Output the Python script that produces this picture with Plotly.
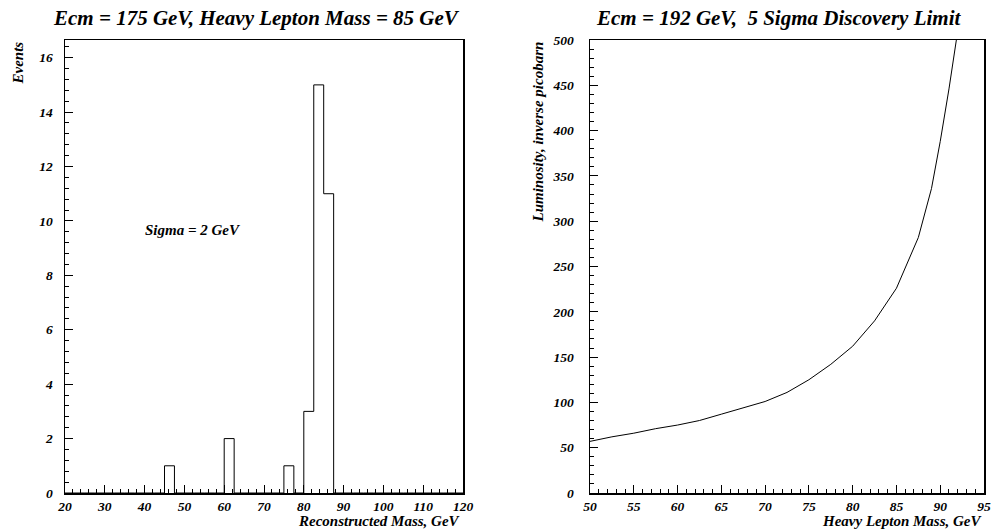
import plotly.graph_objects as go

# ---- data ----
bin_edges = [20 + 2.5 * i for i in range(41)]
counts = [0] * 40
counts[10] = 1   # 45-47.5
counts[16] = 2   # 60-62.5
counts[22] = 1   # 75-77.5
counts[24] = 3   # 80-82.5
counts[25] = 15  # 82.5-85
counts[26] = 11  # 85-87.5

lepton_mass = [50, 52.5, 55, 57.5, 60, 62.5, 65, 67.5, 70, 72.5, 75, 77.5,
               80, 82.5, 85, 87.5, 89, 90, 91, 92]
luminosity = [57, 62, 66, 71, 75, 80, 87, 94, 101, 111, 125, 142,
              162, 190, 226, 282, 336, 388, 446, 510]

left_title = "Ecm = 175 GeV, Heavy Lepton Mass = 85 GeV"
right_title = "Ecm = 192 GeV,  5 Sigma Discovery Limit"

FONT = "Liberation Serif"

def f(size):
    return dict(family=FONT, size=size, color="black", weight="bold", style="italic")

fig = go.Figure()

# histogram as step outline
xs = bin_edges
ys = counts + [counts[-1]]
fig.add_trace(go.Scatter(x=xs, y=ys, mode="lines", line=dict(shape="hv", color="black", width=1),
                         xaxis="x", yaxis="y", showlegend=False, hoverinfo="skip"))

fig.add_trace(go.Scatter(x=lepton_mass, y=luminosity, mode="lines",
                         line=dict(color="black", width=1),
                         xaxis="x2", yaxis="y2", showlegend=False, hoverinfo="skip"))

W, H = 994, 531
L1, R1 = 65, 463
L2, R2 = 590, 984
TOP, BOT = 40, 493

def px(x):
    return x / W

def py(y):
    return 1 - y / H

common = dict(showgrid=False, zeroline=False, showline=True, linecolor="black", linewidth=1.5,
              mirror=True, ticks="inside", tickcolor="black", tickfont=f(13.5), automargin=False)

fig.update_layout(
    width=W, height=H, margin=dict(l=0, r=0, t=0, b=0, autoexpand=False),
    paper_bgcolor="white", plot_bgcolor="white",
    xaxis=dict(domain=[px(L1), px(R1)], range=[20, 120], anchor="y", tickmode="linear", tick0=20, dtick=10,
               ticklen=8, tickwidth=1, minor=dict(dtick=2, ticklen=4, ticks="inside", tickcolor="black"),
               ticklabelstandoff=0, **common),
    yaxis=dict(domain=[py(BOT), py(TOP)], range=[0, 16.65], anchor="x", tickmode="linear", tick0=0, dtick=2,
               ticklen=8, tickwidth=1, minor=dict(dtick=0.4, ticklen=4, ticks="inside", tickcolor="black"),
               ticklabelstandoff=8, **common),
    xaxis2=dict(domain=[px(L2), px(R2)], range=[50, 95], anchor="y2", tickmode="linear", tick0=50, dtick=5,
                ticklen=8, tickwidth=1, minor=dict(dtick=1, ticklen=4, ticks="inside", tickcolor="black"),
                ticklabelstandoff=0, **common),
    yaxis2=dict(domain=[py(BOT), py(TOP)], range=[0, 500], anchor="x2", tickmode="linear", tick0=0, dtick=50,
                ticklen=8, tickwidth=1, minor=dict(dtick=10, ticklen=4, ticks="inside", tickcolor="black"),
                ticklabelstandoff=12, **common),
)

ann = [
    dict(text=left_title, x=px(256), y=py(18), xref="paper", yref="paper", showarrow=False,
         font=f(21), xanchor="center", yanchor="middle"),
    dict(text=right_title, x=px(778), y=py(18), xref="paper", yref="paper", showarrow=False,
         font=f(21), xanchor="center", yanchor="middle"),
    dict(text="Reconstructed Mass, GeV", x=px(R1), y=py(521), xref="paper", yref="paper", showarrow=False,
         font=f(15), xanchor="right", yanchor="middle"),
    dict(text="Heavy Lepton Mass, GeV", x=px(R2), y=py(521), xref="paper", yref="paper", showarrow=False,
         font=f(15), xanchor="right", yanchor="middle"),
    dict(text="Events", x=px(17), y=py(TOP), xref="paper", yref="paper", showarrow=False,
         font=f(15), xanchor="center", yanchor="top", textangle=-90),
    dict(text="Luminosity, inverse picobarn", x=px(537), y=py(TOP), xref="paper", yref="paper", showarrow=False,
         font=f(15), xanchor="center", yanchor="top", textangle=-90),
    dict(text="Sigma = 2 GeV", x=px(143), y=py(230), xref="paper", yref="paper", showarrow=False,
         font=f(15), xanchor="left", yanchor="middle"),
]
fig.update_layout(annotations=ann)

fig.write_html("out.html", config={"displayModeBar": False, "staticPlot": True},
               post_script="document.body.style.margin='0';document.body.style.overflow='hidden';")
